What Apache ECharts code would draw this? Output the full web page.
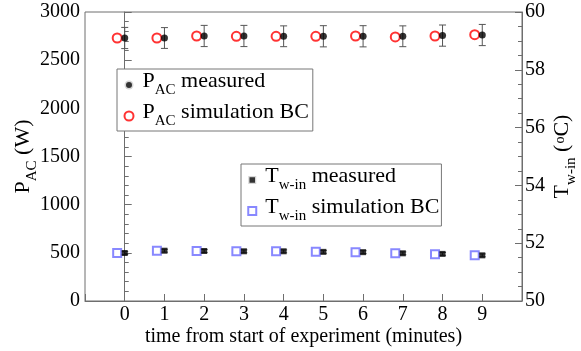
<!DOCTYPE html>
<html>
<head>
<meta charset="utf-8">
<script src="https://cdn.jsdelivr.net/npm/echarts@6/dist/echarts.min.js"></script>
<style>
  html, body { margin: 0; padding: 0; background: #fff; }
  #chart { width: 581px; height: 351px; }
</style>
</head>
<body>
<div id="chart"></div>
<script>
// time from start of experiment (minutes)
const minutes = [0, 1, 2, 3, 4, 5, 6, 7, 8, 9];

// P_AC (W), left axis
const pMeasured = [2730, 2730, 2751, 2751, 2748, 2748, 2748, 2748, 2755, 2761];
const pMeasuredErr = [110, 108, 110, 110, 108, 110, 110, 108, 110, 110];
const pSimulation = [2730, 2730, 2751, 2748, 2748, 2748, 2751, 2741, 2751, 2765];

// T_w-in (°C), right axis
const tMeasured = [51.66, 51.74, 51.73, 51.72, 51.72, 51.70, 51.69, 51.65, 51.63, 51.58];
const tMeasuredErr = [0.05, 0.05, 0.05, 0.05, 0.05, 0.05, 0.05, 0.05, 0.05, 0.05];
const tSimulation = [51.66, 51.74, 51.73, 51.72, 51.72, 51.70, 51.69, 51.65, 51.62, 51.58];

const leftTicks = [0, 500, 1000, 1500, 2000, 2500, 3000];
const rightTicks = [50, 52, 54, 56, 58, 60];

const FONT = "Liberation Serif";
const SIM_SHIFT = 0.19; // simulation markers drawn just left of the measured ones

// rich styles: m = main text, s = subscript, p = superscript
const rich = {
    m: { fontFamily: FONT, fontSize: 22, color: "#000", lineHeight: 18, padding: [0, 0, 8, 0] },
    s: { fontFamily: FONT, fontSize: 15, color: "#000", lineHeight: 15, padding: [11, 0, 0, 0] },
    p: { fontFamily: FONT, fontSize: 14, color: "#000", lineHeight: 14, padding: [0, 0, 12, 1] },
};

const legendLabels = {
    "P measured": "{m|P}{s|AC}{m| measured}",
    "P simulation": "{m|P}{s|AC}{m| simulation BC}",
    "T measured": "{m|T}{s|w-in}{m| measured}",
    "T simulation": "{m|T}{s|w-in}{m| simulation BC}",
};

function errorBars(xs, vals, errs) {
    return xs.map((x, i) => [x, vals[i] - errs[i], vals[i] + errs[i]]);
}

function renderErr(params, api) {
    const x = api.value(0);
    const lo = api.coord([x, api.value(1)]);
    const hi = api.coord([x, api.value(2)]);
    const w = 3.5;
    const st = { stroke: "#555", lineWidth: 1 };
    return {
        type: "group",
        children: [
            { type: "line", shape: { x1: hi[0], y1: hi[1], x2: lo[0], y2: lo[1] }, style: st },
            { type: "line", shape: { x1: hi[0] - w, y1: hi[1], x2: hi[0] + w, y2: hi[1] }, style: st },
            { type: "line", shape: { x1: lo[0] - w, y1: lo[1], x2: lo[0] + w, y2: lo[1] }, style: st },
        ],
    };
}

const axisGray = "#6e6e6e";
const tickFont = { fontFamily: FONT, fontSize: 20, color: "#000" };
const chart = echarts.init(document.getElementById("chart"), null, { renderer: "canvas" });

chart.setOption({
    animation: false,
    backgroundColor: "#fff",
    grid: {
        left: 85, right: 59, top: 12, bottom: 50,
        outerBoundsMode: "none", containLabel: false,
        show: true, borderColor: axisGray, borderWidth: 1,
    },
    legend: [
        {
            left: 117, top: 69, orient: "vertical",
            padding: [1, 4, 0, 6], itemGap: 1, itemWidth: 9, itemHeight: 9,
            borderColor: "#777", borderWidth: 1, backgroundColor: "#fff",
            data: [
                { name: "P measured", itemStyle: { borderColor: "#fff", borderWidth: 3 } },
                { name: "P simulation" },
            ],
            formatter: (n) => legendLabels[n],
            textStyle: { rich: rich, padding: [0, 0, 0, 4] },
        },
        {
            left: 241, top: 164, orient: "vertical",
            padding: [1, 2, 0, 6], itemGap: 1, itemWidth: 8, itemHeight: 8,
            borderColor: "#777", borderWidth: 1, backgroundColor: "#fff",
            data: [
                { name: "T measured", itemStyle: { borderColor: "#fff", borderWidth: 2.5 } },
                { name: "T simulation" },
            ],
            formatter: (n) => legendLabels[n],
            textStyle: { rich: rich, padding: [0, 0, 0, 4] },
        },
    ],
    xAxis: {
        type: "value",
        min: -1,
        max: 10,
        interval: 1,
        name: "time from start of experiment (minutes)",
        nameLocation: "middle",
        nameGap: 26,
        nameMoveOverlap: false,
        nameTextStyle: tickFont,
        axisLine: { lineStyle: { color: axisGray } },
        axisTick: { inside: true, length: 7, lineStyle: { color: axisGray } },
        axisLabel: Object.assign({}, tickFont, {
            margin: 4,
            formatter: (v) => (minutes.indexOf(v) >= 0 ? String(v) : ""),
        }),
        splitLine: { show: false },
    },
    yAxis: [
        {
            type: "value",
            min: leftTicks[0],
            max: leftTicks[leftTicks.length - 1],
            interval: leftTicks[1] - leftTicks[0],
            name: "{m|P}{s|AC}{m| (W)}",
            nameLocation: "middle",
            nameRotate: 90,
            nameGap: 49,
            nameMoveOverlap: false,
            nameTextStyle: { rich: rich },
            axisLine: { show: true, lineStyle: { color: axisGray } },
            axisTick: { show: true, inside: true, length: 7, lineStyle: { color: axisGray } },
            minorTick: { show: true, splitNumber: 5, length: 4, lineStyle: { color: axisGray } },
            axisLabel: Object.assign({}, tickFont, { margin: 5, formatter: (v) => String(v) }),
            splitLine: { show: false },
        },
        {
            type: "value",
            position: "right",
            min: rightTicks[0],
            max: rightTicks[rightTicks.length - 1],
            interval: rightTicks[1] - rightTicks[0],
            name: "{m|T}{s|w-in}{m| (}{p|o}{m|C)}",
            nameLocation: "middle",
            nameRotate: 90,
            nameGap: 35,
            nameMoveOverlap: false,
            nameTextStyle: { rich: rich },
            axisLine: { show: true, lineStyle: { color: axisGray } },
            axisTick: { show: true, inside: true, length: 7, lineStyle: { color: axisGray } },
            minorTick: { show: true, splitNumber: 4, length: 4, lineStyle: { color: axisGray } },
            axisLabel: Object.assign({}, tickFont, { margin: 3, formatter: (v) => String(v) }),
            splitLine: { show: false },
        },
    ],
    series: [
        {
            type: "custom",
            name: "P error",
            renderItem: renderErr,
            data: errorBars(minutes, pMeasured, pMeasuredErr),
            encode: { x: 0, y: [1, 2] },
            z: 1,
        },
        {
            type: "custom",
            name: "T error",
            yAxisIndex: 1,
            renderItem: renderErr,
            data: errorBars(minutes, tMeasured, tMeasuredErr),
            encode: { x: 0, y: [1, 2] },
            z: 1,
        },
        {
            type: "scatter",
            name: "P measured",
            symbol: "circle",
            symbolSize: 7,
            itemStyle: { color: "#000" },
            data: minutes.map((t, i) => [t, pMeasured[i]]),
            z: 3,
        },
        {
            type: "scatter",
            name: "P simulation",
            symbol: "emptyCircle",
            symbolSize: 9,
            itemStyle: { color: "#ff0000", borderColor: "#ff0000", borderWidth: 1.2 },
            data: minutes.map((t, i) => [t - SIM_SHIFT, pSimulation[i]]),
            z: 2,
        },
        {
            type: "scatter",
            name: "T measured",
            yAxisIndex: 1,
            symbol: "rect",
            symbolSize: 6,
            itemStyle: { color: "#000" },
            data: minutes.map((t, i) => [t, tMeasured[i]]),
            z: 3,
        },
        {
            type: "scatter",
            name: "T simulation",
            yAxisIndex: 1,
            symbol: "emptyRect",
            symbolSize: 8,
            itemStyle: { color: "#6a6aff", borderColor: "#6a6aff", borderWidth: 1 },
            data: minutes.map((t, i) => [t - SIM_SHIFT, tSimulation[i]]),
            z: 2,
        },
    ],
});
</script>
</body>
</html>
